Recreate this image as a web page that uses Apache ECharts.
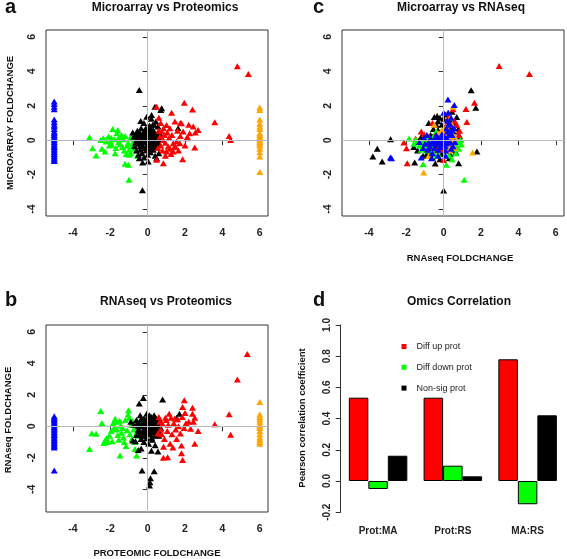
<!DOCTYPE html>
<html><head><meta charset="utf-8">
<script src="https://cdn.jsdelivr.net/npm/echarts@6/dist/echarts.min.js"></script>
<style>html,body{margin:0;padding:0;background:#fff}#c{width:567px;height:559px}</style>
</head><body><div id="c"></div>
<script>
// ---------- data ----------
const scatterTicks = [-4, -2, 0, 2, 4, 6];
const barTicks = [-0.2, 0, 0.2, 0.4, 0.6, 0.8, 1.0];

// Panel a: Microarray (y) vs Proteomics (x)
const aGreen = [[-3.11,0.17],[-2.95,-0.46],[-2.76,-0.89],[-2.51,0.02],[-2.37,0.11],[-2.22,-0.08],[-2.28,-0.66],[-2.1,0.21],[-2.01,-0.04],[-1.92,-0.27],[-1.87,0.65],[-1.74,-0.75],[-1.65,0.4],[-1.57,0.11],[-1.48,-0.23],[-1.6,0.6],[-1.55,-0.1],[-1.4,0.3],[-1.35,-0.4],[-1.3,0.05],[-1.25,-0.6],[-1.21,-1.37],[-1.03,-1.43],[-1.2,0.25],[-1.1,-0.3],[-1.05,-0.15],[-1.0,-0.55],[-0.95,0.1],[-0.9,-0.75],[-0.85,-0.35],[-0.8,0.3],[-0.75,-0.05],[-0.7,-0.5],[-0.65,0.15],[-0.6,-0.2],[-0.55,-0.9],[-0.5,0.05],[-1.8,0.05],[-1.95,0.15],[-2.05,-0.3],[-1.7,-0.45],[-1.0,-2.3],[-1.15,-0.8],[-0.98,-0.85],[-1.45,0.1],[-0.45,-0.1],[-2.45,-0.5]];
const aBlack = [[-0.45,2.92],[-0.28,-2.9],[0.39,1.94],[0.75,1.85],[0.7,1.75],[-0.37,1.12],[-0.05,1.36],[0.21,1.46],[0.44,1.08],[0.35,0.9],[-0.2,1.0],[0.1,0.85],[-0.55,0.55],[-0.65,0.35],[-0.75,0.2],[-0.8,0.45],[-0.5,0.1],[-0.45,-0.2],[-0.4,0.4],[-0.35,0.7],[-0.3,0.15],[-0.25,-0.35],[-0.2,0.5],[-0.15,0.25],[-0.1,-0.1],[-0.05,0.6],[0.0,0.35],[0.05,-0.3],[0.1,0.1],[0.15,0.45],[0.2,-0.15],[0.25,0.25],[0.3,0.6],[0.35,-0.05],[0.4,0.3],[0.45,-0.4],[0.5,0.15],[0.55,0.45],[0.6,-0.2],[0.65,0.05],[-0.6,-0.6],[-0.5,-0.85],[-0.4,-0.55],[-0.3,-0.75],[-0.2,-1.0],[-0.1,-0.6],[0.0,-0.85],[0.03,-1.24],[-0.27,-1.3],[0.48,-1.04],[0.15,-0.7],[0.3,-0.55],[0.4,-0.9],[-0.7,-0.35],[-0.15,0.05],[0.05,0.7],[-0.35,-0.05],[0.25,-0.45],[0.55,0.8],[0.6,-0.75],[-0.45,-1.05],[0.2,1.25],[0.0,0.15],[-0.05,-0.3],[0.12,-0.05],[0.32,0.2],[-0.25,0.3],[0.7,0.3],[1.63,0.69],[-0.6,0.0],[-0.55,0.25],[-0.45,0.45],[-0.35,0.3],[-0.3,-0.3],[-0.2,0.2],[-0.1,0.4],[-0.05,0.1],[0.05,0.5],[0.1,-0.15],[0.18,0.3],[0.22,0.05],[0.28,-0.25],[0.33,0.45],[0.38,0.1],[0.45,0.2],[0.5,-0.1],[0.58,0.25],[-0.4,-0.35],[-0.25,0.05],[-0.15,-0.45],[0.0,-0.5],[0.1,0.3],[0.2,-0.5],[0.42,-0.2],[-0.5,0.3],[-0.65,-0.15],[0.15,0.65],[-0.1,0.7],[0.27,0.9]];
const aRed = [[0.48,1.94],[1.28,1.6],[1.96,2.17],[2.4,1.79],[3.59,1.04],[4.36,0.25],[4.44,0.02],[4.8,4.3],[5.39,3.85],[2.52,-0.42],[1.87,-1.1],[0.84,-1.33],[0.48,-1.13],[1.01,-0.65],[1.37,-0.65],[1.72,-0.17],[2.08,0.12],[1.81,0.98],[2.44,0.79],[2.7,0.6],[1.46,1.08],[1.19,0.69],[1.01,0.88],[0.75,0.5],[0.84,0.02],[1.37,-0.17],[1.1,-0.37],[1.55,-0.08],[0.6,1.3],[0.7,1.0],[0.65,0.2],[0.7,-0.3],[0.8,-0.6],[0.9,0.3],[0.95,-0.15],[1.05,0.45],[1.15,0.15],[1.2,-0.5],[1.3,0.3],[1.45,-0.35],[1.6,0.55],[1.65,-0.6],[1.75,0.25],[1.9,0.5],[2.0,-0.3],[2.15,0.15],[2.25,0.4],[2.55,0.45],[1.75,1.0],[0.55,-0.45],[0.6,0.55],[0.95,-0.9],[1.25,-0.8],[2.2,0.9],[1.5,-0.4],[0.85,0.7]];
const aBlueY = [2.25,2.1,1.95,1.8,1.2,1.05,0.9,0.8,0.65,0.5,0.4,0.3,0.2,0.1,0.0,-0.1,-0.2,-0.3,-0.4,-0.5,-0.6,-0.7,-0.8,-0.9,-1.0,-1.1,-1.2];
const aOrangeY = [1.9,1.75,1.2,0.95,0.8,0.65,0.4,0.3,0.2,0.1,0.0,-0.1,-0.2,-0.3,-0.5,-0.7,-0.95,-1.85];

// Panel b: RNAseq (y) vs Proteomics (x)
const bGreen = [[-3.11,-1.43],[-2.99,-0.43],[-2.76,-0.47],[-2.51,0.98],[-2.45,0.21],[-2.28,-0.9],[-2.2,-0.75],[-2.15,-1.0],[-2.05,-0.6],[-1.95,-0.3],[-1.85,0.2],[-1.74,0.49],[-1.7,0.3],[-1.65,-0.2],[-1.6,-0.55],[-1.55,-0.85],[-1.48,-1.85],[-1.45,0.05],[-1.4,-0.4],[-1.35,-0.1],[-1.3,-0.7],[-1.25,-1.0],[-1.2,0.4],[-1.16,-1.25],[-1.1,-0.25],[-1.05,0.75],[-1.03,1.02],[-1.0,0.55],[-0.95,-0.5],[-0.9,0.1],[-0.85,-0.8],[-0.8,0.35],[-0.75,-0.2],[-0.7,-1.0],[-0.68,-1.43],[-0.65,0.2],[-0.6,-0.4],[-0.59,-1.85],[-0.55,0.0],[-0.5,-0.6],[-1.9,-0.95],[-2.35,-1.05],[-1.8,-0.1],[-1.5,0.35],[-0.45,0.3]];
const bBlack = [[-0.23,1.81],[-0.45,1.45],[0.8,1.7],[1.7,0.8],[-0.3,-2.8],[0.35,-2.85],[0.15,-3.3],[0.12,-3.55],[0.1,-3.75],[0.2,-1.55],[0.55,-1.6],[-0.35,-1.4],[-0.5,-1.5],[-0.8,-0.9],[-0.65,-0.95],[-0.9,0.3],[-0.6,0.4],[-0.5,0.0],[-0.4,0.7],[-0.3,0.2],[-0.25,-0.3],[-0.2,0.5],[-0.15,-0.6],[-0.1,0.1],[-0.05,0.8],[0.0,-0.2],[0.05,0.4],[0.1,-0.5],[0.15,0.15],[0.2,0.6],[0.25,-0.1],[0.3,0.3],[0.35,-0.4],[0.4,0.0],[0.45,0.5],[0.5,-0.25],[0.55,0.2],[0.6,-0.6],[0.65,0.4],[0.7,-0.1],[-0.45,-0.3],[-0.35,-0.8],[-0.2,-1.0],[-0.05,-0.75],[0.05,-1.1],[0.25,-0.85],[0.4,-1.2],[-0.6,-0.55],[0.1,0.7],[-0.1,-0.35],[0.0,0.05],[0.2,-0.3],[-0.3,0.0],[0.35,0.7],[-0.15,0.25],[0.15,-0.15],[1.55,0.55],[-0.75,0.1],[-0.55,0.2],[-0.45,0.15],[-0.4,-0.5],[-0.35,0.45],[-0.25,0.0],[-0.2,-0.2],[-0.1,0.3],[-0.05,-0.5],[0.05,0.15],[0.1,-0.05],[0.15,0.35],[0.2,0.1],[0.25,-0.35],[0.3,0.5],[0.35,0.15],[0.4,-0.6],[0.45,-0.1],[0.5,0.3],[0.55,-0.45],[0.6,0.05],[-0.3,-0.6],[-0.15,-0.1],[0.0,0.3],[0.08,-0.3],[0.22,-0.7],[-0.5,-0.2],[0.3,-0.15],[-0.05,0.5],[0.12,0.45],[0.65,-0.35]];
const bRed = [[5.33,4.6],[4.8,2.98],[4.36,0.77],[4.44,-0.53],[3.59,0.13],[1.96,1.66],[1.87,1.23],[2.4,1.19],[2.52,0.55],[2.7,-0.3],[2.52,-1.1],[1.81,-1.21],[1.81,-1.7],[1.87,-2.13],[0.84,-2.0],[1.07,-1.96],[0.6,0.6],[0.65,0.3],[0.7,-0.2],[0.75,-0.5],[0.8,0.15],[0.9,-0.8],[1.0,0.4],[1.05,-0.3],[1.1,0.1],[1.2,-1.1],[1.25,0.55],[1.3,-0.5],[1.4,0.2],[1.5,-0.2],[1.55,-0.8],[1.6,0.45],[1.65,0.0],[1.75,-0.45],[1.85,0.6],[1.95,-0.1],[2.05,0.2],[2.2,0.3],[2.3,-0.15],[2.45,0.3],[1.45,0.5],[0.55,-0.45],[0.85,-1.3],[1.35,-1.35],[2.0,0.85],[1.15,0.8],[0.95,0.55],[2.4,0.8]];
const bBlueY = [0.65,0.55,0.45,0.35,0.25,0.15,0.05,-0.05,-0.15,-0.25,-0.35,-0.45,-0.55,-0.65,-0.75,-0.85,-0.95,-1.05,-1.15,-1.25,-1.35,-2.8];
const bOrangeY = [1.55,0.75,0.6,0.45,0.3,0.1,0.0,-0.1,-0.3,-0.5,-0.7,-0.85,-1.0,-1.1];

// Panel c: Microarray (y) vs RNAseq (x)
const cBlack = [[-2.84,0.06],[-3.55,-0.5],[-3.79,-0.94],[-3.29,-1.23],[-1.55,-1.29],[0.8,-1.33],[1.47,2.9],[1.72,1.88],[1.78,-0.65],[0.0,-2.92],[-1.6,-0.4],[-1.2,0.2],[-1.0,-0.5],[-0.9,-0.8],[-0.8,1.0],[-0.7,0.3],[-0.6,-1.0],[-0.5,1.35],[-0.4,-0.3],[-0.35,1.4],[-0.3,0.6],[-0.2,-1.1],[-0.1,0.9],[0.0,0.3],[0.1,1.5],[0.2,-0.6],[0.3,1.2],[0.4,0.7],[0.5,-0.3],[0.6,0.5],[0.7,1.35],[0.75,0.6],[0.85,0.25],[0.3,-1.05],[-0.45,-1.35],[-0.85,-0.15],[-1.35,-0.05],[0.65,-0.7],[-0.15,0.0],[0.2,0.4],[-0.55,0.65],[0.45,1.65],[0.35,-0.8],[-1.0,0.05],[-0.25,-0.5],[0.55,1.05],[-0.7,-0.7],[-1.4,-0.6],[-1.1,-0.9],[-0.6,0.2],[-0.4,0.9],[-0.2,1.3],[0.2,0.9],[0.6,0.0],[0.8,0.6],[0.1,-0.3],[-0.1,-0.8],[0.45,-0.55],[-0.75,-0.45],[0.65,0.9],[-0.3,1.1],[0.0,1.25]];
const cRed = [[2.97,4.31],[4.59,3.85],[1.65,2.17],[1.19,1.81],[1.24,1.06],[-2.13,-0.13],[-1.99,-0.46],[-1.95,-1.33],[-1.2,0.5],[-0.8,0.2],[-0.6,1.0],[-0.3,-0.1],[0.0,-1.15],[0.3,0.9],[0.5,1.8],[0.7,0.9],[0.8,0.3],[-0.5,0.3],[0.1,0.55],[0.6,-0.4],[-0.9,-0.25],[0.4,0.0],[-1.5,0.1],[0.25,1.3],[-0.1,-0.55],[0.9,0.05],[-0.4,-0.6],[0.2,1.0],[0.6,1.1],[-1.05,0.35],[0.85,0.55]];
const cGreen = [[1.1,-2.29],[-1.1,-1.4],[0.14,-1.42],[-1.85,0.1],[-1.5,0.05],[-1.3,-0.3],[-1.2,-0.15],[-1.0,-0.35],[-0.8,0.0],[-0.6,-0.6],[-0.4,0.5],[-0.3,-0.8],[0.0,-0.4],[0.3,-0.9],[0.5,-0.5],[0.7,-0.3],[0.9,0.0],[0.65,-0.75],[-1.4,-0.1],[0.15,0.2],[-0.9,-0.6],[0.8,-0.5],[-1.1,-0.05],[0.45,-1.1],[-0.55,0.2],[-1.6,-0.2],[-0.9,0.05],[-0.7,-0.35],[0.2,-0.65],[0.75,-0.1],[-0.45,-0.9],[-1.2,-0.55],[0.95,-0.25]];
const cOrange = [[1.55,-0.71],[-1.07,-1.87],[0.2,1.6],[0.5,1.95],[0.35,1.3],[0.4,0.5],[0.6,0.2],[-0.5,0.9],[-0.2,-0.3],[0.0,0.1],[-0.8,-0.9],[0.3,-0.6],[0.55,0.0],[0.45,-0.2],[-0.3,0.4],[0.15,0.8],[0.3,0.2],[0.45,0.9],[0.1,0.4],[-0.1,0.6],[0.6,-0.45],[0.25,-0.25],[0.55,0.6],[-0.4,0.0]];
const cBlue = [[0.23,2.37],[0.57,2.04],[0.0,1.6],[-2.79,-1.04],[-2.85,-1.0],[-1.2,-1.0],[-1.0,-0.2],[-0.9,0.3],[-0.8,-0.1],[-0.7,0.1],[-0.6,-0.2],[-0.55,0.0],[-0.5,-0.1],[-0.45,0.05],[-0.4,-0.15],[-0.35,-0.05],[-0.3,0.15],[-0.25,-0.2],[-0.2,0.0],[-0.15,-0.1],[-0.1,0.1],[-0.05,-0.1],[0.0,0.0],[0.05,0.2],[0.1,-0.2],[0.15,0.1],[0.2,0.5],[0.25,-0.15],[0.3,0.3],[0.35,0.9],[0.4,-0.5],[0.45,0.6],[0.3,1.0],[-0.65,-1.05],[-0.3,-0.9],[0.1,-0.6],[0.5,-0.35],[-0.85,-0.55],[-1.3,-0.1],[0.2,1.15],[-1.05,0.15],[-0.75,-0.35],[-0.5,-0.45],[-0.2,-0.4],[0.05,-0.35],[0.2,0.05],[0.35,-0.1],[0.45,0.3],[0.55,0.7],[-0.1,0.35],[-0.4,0.3],[0.15,0.7],[0.4,1.3],[0.25,1.6],[0.1,-0.9],[-0.6,-0.75],[-1.1,-0.45],[0.6,-0.1],[0.0,-0.2],[-0.3,-0.55],[0.35,0.45]];

// Panel d: Omics correlation
const corrCategories = ['Prot:MA', 'Prot:RS', 'MA:RS'];
const corrUp = [0.534, 0.534, 0.78];
const corrDown = [-0.051, 0.098, -0.149];
const corrNonSig = [0.162, 0.03, 0.421];

// ---------- chart ----------
const FONT = 'Liberation Sans';
const RED = '#ff0000', GREEN = '#00ff00', BLACK = '#000000', BLUE = '#0000ff', ORANGE = '#ffa500';

const grids = [
  {left: 46, top: 30, width: 222, height: 186},
  {left: 342, top: 30, width: 222, height: 186},
  {left: 46, top: 325, width: 222, height: 187},
  {left: 340.7, top: 325, width: 224.3, height: 187.2}
].map(g => Object.assign({show: g.left !== 340.7, borderColor: '#333', borderWidth: 1, containLabel: false}, g));

function valAxis(idx, isY, min, max) {
  return {
    type: 'value', gridIndex: idx, min: min, max: max,
    axisLine: {show: false},
    splitLine: {show: false},
    axisTick: {show: true, inside: false, length: 5, customValues: scatterTicks, lineStyle: {color: '#333'}},
    axisLabel: {show: true, customValues: scatterTicks, fontFamily: FONT, fontSize: 10.5, fontWeight: 'bold',
      color: '#222', margin: isY ? 8 : 12, rotate: isY ? 90 : 0}
  };
}

function sc(data, color, xi, z) {
  return {type: 'scatter', xAxisIndex: xi, yAxisIndex: xi, data: data, symbol: 'triangle',
    symbolSize: [7, 6], itemStyle: {color: color, opacity: 1}, z: z || 2, silent: true, animation: false};
}
function col(x, ys) { return ys.map(y => [x, y]); }
function refLines(xi, hColor) {
  return {type: 'scatter', xAxisIndex: xi, yAxisIndex: xi, data: [], z: 1, silent: true, animation: false,
    markLine: {symbol: ['none', 'none'], silent: true, animation: false, label: {show: false},
      data: [{xAxis: 0, lineStyle: {color: '#bbbbbb', type: 'solid', width: 1}},
             {yAxis: 0, lineStyle: {color: hColor, type: 'solid', width: 1}}]}};
}

const barBase = {type: 'bar', xAxisIndex: 3, yAxisIndex: 3, barWidth: 19.5, barGap: '0%', animation: false};

const option = {
  animation: false,
  textStyle: {fontFamily: FONT},
  grid: grids,
  xAxis: [
    valAxis(0, false, -5.44, 6.44),
    valAxis(1, false, -5.44, 6.44),
    valAxis(2, false, -5.44, 6.44),
    {type: 'category', gridIndex: 3, data: corrCategories, axisLine: {show: false}, axisTick: {show: false},
      axisLabel: {fontFamily: FONT, fontSize: 10, fontWeight: 'bold', color: '#222', margin: 14}}
  ],
  yAxis: [
    valAxis(0, true, -4.4, 6.4),
    valAxis(1, true, -4.4, 6.4),
    valAxis(2, true, -5.44, 6.44),
    {type: 'value', gridIndex: 3, min: -0.2, max: 1.0, splitLine: {show: false},
      axisLine: {show: true, lineStyle: {color: '#333'}},
      axisTick: {show: true, inside: false, length: 5, customValues: barTicks, lineStyle: {color: '#333'}},
      axisLabel: {customValues: barTicks, rotate: 90, fontFamily: FONT, fontSize: 10, fontWeight: 'bold', color: '#222', margin: 8,
        formatter: v => v.toFixed(1)}}
  ],
  legend: {
    show: true, orient: 'vertical', left: 396.5, top: 337, itemWidth: 5, itemHeight: 5, itemGap: 11.8, icon: 'rect',
    padding: 5,
    data: ['Diff up prot', 'Diff down prot', 'Non-sig prot'],
    itemStyle: {borderWidth: 0},
    textStyle: {fontFamily: FONT, fontSize: 9, color: '#222', padding: [0, 0, 0, 5]}
  },
  series: [
    refLines(0, '#b4b4cc'),
    sc(aGreen, GREEN, 0), sc(aBlack, BLACK, 0), sc(aRed, RED, 0),
    sc(col(-5, aBlueY), BLUE, 0), sc(col(6, aOrangeY), ORANGE, 0),
    refLines(1, '#bbbbbb'),
    sc(cBlack, BLACK, 1), sc(cRed, RED, 1), sc(cGreen, GREEN, 1), sc(cOrange, ORANGE, 1), sc(cBlue, BLUE, 1),
    refLines(2, '#bbbbbb'),
    sc(bGreen, GREEN, 2), sc(bBlack, BLACK, 2), sc(bRed, RED, 2),
    sc(col(-5, bBlueY), BLUE, 2), sc(col(6, bOrangeY), ORANGE, 2),
    Object.assign({name: 'Diff up prot', data: corrUp, itemStyle: {color: RED, borderColor: '#000', borderWidth: 1}}, barBase),
    Object.assign({name: 'Diff down prot', data: corrDown, itemStyle: {color: GREEN, borderColor: '#000', borderWidth: 1}}, barBase),
    Object.assign({name: 'Non-sig prot', data: corrNonSig, itemStyle: {color: BLACK, borderColor: '#000', borderWidth: 1}}, barBase)
  ],
  graphic: [
    {type: 'text', left: 5, top: -3, style: {text: 'a', font: 'bold 20px "Liberation Sans"', fill: '#111'}},
    {type: 'text', left: 313, top: -3, style: {text: 'c', font: 'bold 20px "Liberation Sans"', fill: '#111'}},
    {type: 'text', left: 5, top: 290, style: {text: 'b', font: 'bold 20px "Liberation Sans"', fill: '#111'}},
    {type: 'text', left: 313, top: 290, style: {text: 'd', font: 'bold 20px "Liberation Sans"', fill: '#111'}},
    {type: 'text', x: 165, y: 8, style: {text: 'Microarray vs Proteomics', font: 'bold 12px "Liberation Sans"', fill: '#111', textAlign: 'center', textVerticalAlign: 'middle'}},
    {type: 'text', x: 461, y: 8, style: {text: 'Microarray vs RNAseq', font: 'bold 12px "Liberation Sans"', fill: '#111', textAlign: 'center', textVerticalAlign: 'middle'}},
    {type: 'text', x: 166, y: 302, style: {text: 'RNAseq vs Proteomics', font: 'bold 12px "Liberation Sans"', fill: '#111', textAlign: 'center', textVerticalAlign: 'middle'}},
    {type: 'text', x: 459, y: 302, style: {text: 'Omics Correlation', font: 'bold 12px "Liberation Sans"', fill: '#111', textAlign: 'center', textVerticalAlign: 'middle'}},
    {type: 'text', x: 10, y: 123, rotation: Math.PI / 2, style: {text: 'MICROARRAY FOLDCHANGE', font: 'bold 9.5px "Liberation Sans"', fill: '#111', textAlign: 'center', textVerticalAlign: 'middle'}},
    {type: 'text', x: 8, y: 420, rotation: Math.PI / 2, style: {text: 'RNAseq FOLDCHANGE', font: 'bold 9.5px "Liberation Sans"', fill: '#111', textAlign: 'center', textVerticalAlign: 'middle'}},
    {type: 'text', x: 302, y: 418, rotation: Math.PI / 2, style: {text: 'Pearson correlation coefficient', font: 'bold 9.5px "Liberation Sans"', fill: '#111', textAlign: 'center', textVerticalAlign: 'middle'}},
    {type: 'text', x: 460, y: 258, style: {text: 'RNAseq FOLDCHANGE', font: 'bold 9.5px "Liberation Sans"', fill: '#111', textAlign: 'center', textVerticalAlign: 'middle'}},
    {type: 'text', x: 157, y: 553, style: {text: 'PROTEOMIC FOLDCHANGE', font: 'bold 9.5px "Liberation Sans"', fill: '#111', textAlign: 'center', textVerticalAlign: 'middle'}}
  ]
};

const chart = echarts.init(document.getElementById('c'), null, {renderer: 'canvas'});
chart.setOption(option);
</script>
</body></html>
